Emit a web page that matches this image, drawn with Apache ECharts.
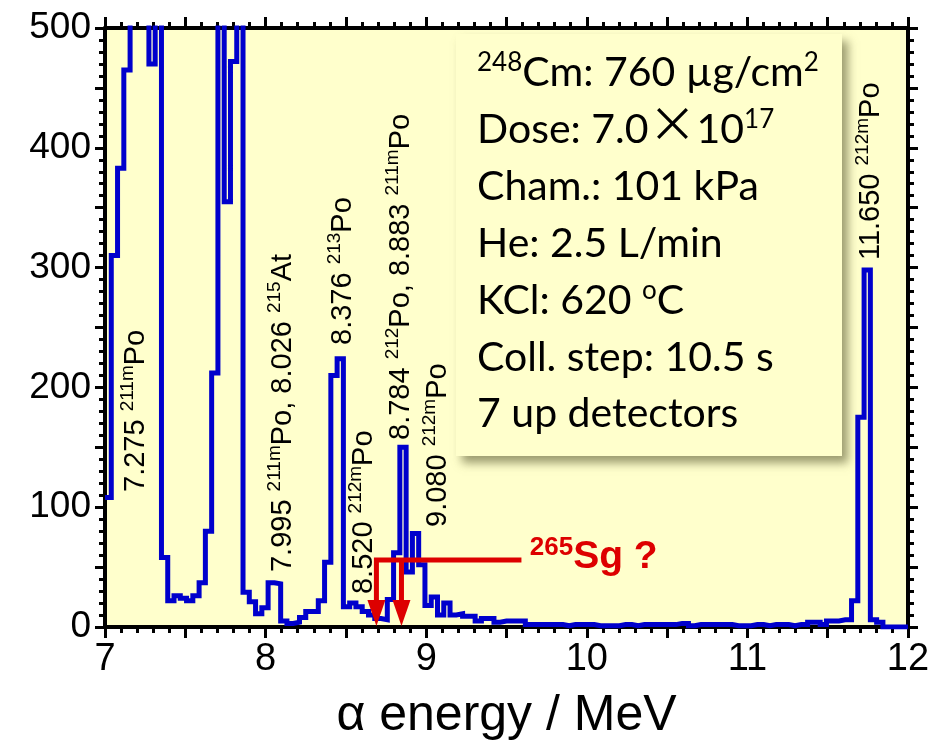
<!DOCTYPE html>
<html>
<head>
<meta charset="utf-8">
<script src="https://cdn.jsdelivr.net/npm/echarts@6/dist/echarts.min.js"></script>
<style>
  html, body { margin: 0; padding: 0; background: #ffffff; }
  #chart { width: 935px; height: 741px; }
</style>
</head>
<body>
<div id="chart"></div>
<script>
// ---- Alpha-particle energy spectrum, 128 channels between 7 and 12 MeV ----
const energyMin = 7;
const energyMax = 12;
const channelCount = 128;

// counts per channel (values above 500 run off the top of the frame)
const counts = [
  108, 310, 383, 465, 560, 620, 580, 470, 540, 58,
  22, 26, 24, 22, 26, 37, 80, 212, 540, 355,
  472, 530, 29, 21, 11, 16, 37, 36, 5, 3,
  4, 8, 13, 13, 22, 54, 210, 224, 17, 20,
  17, 13, 10, 7, 6, 23, 62, 150, 46, 78,
  52, 18, 25, 10, 20, 10, 11, 9, 9, 5,
  7, 7, 4, 5, 5, 5, 5, 2, 2, 2,
  2, 2, 2, 1, 2, 2, 2, 2, 1, 1,
  1, 1, 2, 2, 1, 2, 2, 2, 2, 2,
  2, 3, 3, 1, 2, 2, 2, 2, 2, 2,
  1, 1, 1, 2, 2, 1, 2, 2, 2, 1,
  2, 2, 4, 4, 2, 5, 5, 6, 6, 22,
  175, 298, 6, 4, 0, 0, 0, 0
];

const xTickLabels = [7, 8, 9, 10, 11, 12];
const yTickLabels = [0, 100, 200, 300, 400, 500];

// peak identifications: runs of [text, isSuperscript]
const peakLabelRuns = [
  [['7.275 ', 0], ['211m', 1], ['Po', 0]],
  [['7.995 ', 0], ['211m', 1], ['Po, 8.026 ', 0], ['215', 1], ['At', 0]],
  [['8.376 ', 0], ['213', 1], ['Po', 0]],
  [['8.520 ', 0], ['212m', 1], ['Po', 0]],
  [['8.784 ', 0], ['212', 1], ['Po, 8.883 ', 0], ['211m', 1], ['Po', 0]],
  [['9.080 ', 0], ['212m', 1], ['Po', 0]],
  [['11.650 ', 0], ['212m', 1], ['Po', 0]]
];

// experiment conditions
const infoRuns = [
  [['248', 1], ['Cm: 760 µg/cm', 0], ['2', 1]],
  [['Dose: 7.0', 0], ['×', 2], ['10', 0], ['17', 1]],
  [['Cham.: 101 kPa', 0]],
  [['He: 2.5 L/min', 0]],
  [['KCl: 620 ', 0], ['o', 1], ['C', 0]],
  [['Coll. step: 10.5 s', 0]],
  [['7 up detectors', 0]]
];

// candidate 265Sg alpha energies (MeV) and the bracket that points to them
const sgEnergies = [8.69, 8.846];
const sgBracketLevel = 56;
const sgBracketEnd = 9.593;
const sgLabelRuns = [['265', 1], ['Sg ?', 0]];

// ---- layout (anchors in data units: [energy, counts]) ----
const peakLabelAnchors = [
  [7.180, 112.7], [8.095, 45.9], [8.469, 235.4], [8.599, 27.5],
  [8.830, 156.1], [9.060, 83.5], [11.760, 306.3]
];
const sgLabelAnchor = [9.645, 49.2];

const LABEL_FONT = "'Liberation Sans', Arial, sans-serif";
const INFO_FONT = "Lato, 'Open Sans', sans-serif";
const BLUE = '#0000cc';
const RED = '#dd0000';
const BG = '#ffffcc';

const stepData = counts.map((c, i) => [energyMin + i * (energyMax - energyMin) / channelCount, c]);
stepData.push([energyMax, counts[counts.length - 1]]);

const chart = echarts.init(document.getElementById('chart'), null, { renderer: 'canvas' });

const tickStyle = { color: '#000', width: 3 };
function xAxisDef(pos, showLabels) {
  return {
    type: 'value', position: pos, min: energyMin, max: energyMax, interval: 0.5,
    axisLine: { show: true, onZero: false, lineStyle: { color: '#000', width: 4 } },
    axisTick: { show: true, inside: false, length: 11, lineStyle: tickStyle },
    minorTick: { show: true, splitNumber: 5, length: 6, lineStyle: tickStyle },
    splitLine: { show: false },
    axisLabel: {
      show: showLabels, margin: 14, color: '#000', fontSize: 38, fontFamily: LABEL_FONT,
      formatter: v => (xTickLabels.includes(v) ? String(v) : '')
    }
  };
}
function yAxisDef(pos, showLabels) {
  return {
    type: 'value', position: pos, min: 0, max: 500, interval: 50,
    axisLine: { show: true, onZero: false, lineStyle: { color: '#000', width: 4 } },
    axisTick: { show: true, inside: false, length: 10, lineStyle: tickStyle },
    minorTick: { show: true, splitNumber: 5, length: 6, lineStyle: tickStyle },
    splitLine: { show: false },
    axisLabel: {
      show: showLabels, margin: 14, color: '#000', fontSize: 37, fontFamily: LABEL_FONT,
      formatter: v => (yTickLabels.includes(v) ? String(v) : '')
    }
  };
}

const xBottom = xAxisDef('bottom', true);
xBottom.name = 'α energy / MeV';
xBottom.nameLocation = 'middle';
xBottom.nameGap = 64;
xBottom.nameTextStyle = { color: '#000', fontSize: 50, fontFamily: LABEL_FONT };

chart.setOption({
  animation: false,
  backgroundColor: '#ffffff',
  grid: {
    left: 105, right: 27, top: 28, bottom: 114, show: true, backgroundColor: BG, borderWidth: 0,
    containLabel: false, outerBoundsMode: 'none'
  },
  xAxis: [xBottom, xAxisDef('top', false)],
  yAxis: [yAxisDef('left', true), yAxisDef('right', false)],
  series: [{
    type: 'line', xAxisIndex: 0, yAxisIndex: 0, step: 'end', data: stepData,
    showSymbol: false, symbol: 'none', clip: true,
    lineStyle: { color: BLUE, width: 5, join: 'miter' }, z: 3
  }]
});

// ---- text helpers ----
const measureCtx = document.createElement('canvas').getContext('2d');
function fontSpec(size, family, weight) { return `${weight || 'normal'} ${size}px ${family}`; }
function measure(text, size, family, weight) {
  measureCtx.font = fontSpec(size, family, weight);
  return measureCtx.measureText(text).width;
}
// offset from the em 'middle' line down to the alphabetic baseline
function middleToBaseline(size, family, weight) {
  measureCtx.font = fontSpec(size, family, weight);
  measureCtx.textBaseline = 'middle';
  const a = measureCtx.measureText('H').actualBoundingBoxAscent;
  measureCtx.textBaseline = 'alphabetic';
  const b = measureCtx.measureText('H').actualBoundingBoxAscent;
  return b - a;
}

// lays out runs of normal / superscript text along a baseline; rot = 0 or 90 (reading upwards)
function layoutRuns(runs, x0, y0, opt) {
  const els = [];
  const up = opt.rot === 90;
  let adv = 0;
  runs.forEach(([txt, kind]) => {
    let size = opt.size, family = opt.family, raise = 0;
    if (kind === 1) { size = opt.supSize; raise = opt.supRaise; }
    if (kind === 2) { size = opt.crossSize; family = opt.crossFamily; raise = opt.crossRaise || 0; }
    const w = measure(txt, size, family, opt.weight);
    const mid = middleToBaseline(size, family, opt.weight);
    const off = mid + raise;
    let x, y, rotation = 0;
    if (up) { x = x0 - off; y = y0 - adv; rotation = Math.PI / 2; }
    else { x = x0 + adv; y = y0 - off; }
    els.push({
      type: 'text', x, y, rotation, z: 20, silent: true,
      style: {
        text: txt, fill: opt.color, fontSize: size, fontFamily: family,
        fontWeight: opt.weight || 'normal', align: 'left', verticalAlign: 'middle'
      }
    });
    adv += w;
  });
  return els;
}

function drawOverlay() {
  const g = [];
  const px = p => chart.convertToPixel({ xAxisIndex: 0, yAxisIndex: 0 }, p);

  // conditions box with drop shadow
  g.push({
    type: 'rect', shape: { x: 456, y: 34, width: 386, height: 422 }, z: 10,
    style: { fill: BG, shadowBlur: 9, shadowOffsetX: 6, shadowOffsetY: 7, shadowColor: 'rgba(90,90,50,0.6)' }
  });
  const infoOpt = { size: 41, family: INFO_FONT, supSize: 26, supRaise: 15, crossSize: 48,
    crossFamily: "'Noto Sans CJK JP', sans-serif", crossRaise: 2, color: '#000', rot: 0 };
  infoRuns.forEach((runs, i) => {
    g.push(...layoutRuns(runs, 477, 86 + i * 56.9, infoOpt));
  });

  // rotated peak labels; the anchor marks the start of the text on its mid-line
  const labOpt = { size: 29, family: LABEL_FONT, supSize: 19, supRaise: 11, color: '#000', rot: 90 };
  peakLabelRuns.forEach((runs, i) => {
    const p = px(peakLabelAnchors[i]);
    g.push(...layoutRuns(runs, p[0] + 10, p[1], labOpt));
  });

  // 265Sg bracket and arrows
  const lvl = px([sgBracketEnd, sgBracketLevel]);
  const a0 = px([sgEnergies[0], sgBracketLevel]);
  const base0 = px([sgEnergies[0], 0]);
  const a1 = px([sgEnergies[1], sgBracketLevel]);
  const base1 = px([sgEnergies[1], 0]);
  const redLine = { stroke: RED, lineWidth: 5, fill: null };
  g.push({ type: 'polyline', z: 15, shape: { points: [[lvl[0], lvl[1]], [a0[0], a0[1]], [a0[0], base0[1] - 20]] }, style: redLine });
  g.push({ type: 'polyline', z: 15, shape: { points: [[a1[0], a1[1]], [a1[0], base1[1] - 20]] }, style: redLine });
  [base0, base1].forEach(b => {
    g.push({ type: 'polygon', z: 15, shape: { points: [[b[0] - 9, b[1] - 27], [b[0] + 9, b[1] - 27], [b[0], b[1] - 1]] }, style: { fill: RED } });
  });
  const sp = px(sgLabelAnchor);
  g.push(...layoutRuns(sgLabelRuns, sp[0], sp[1], { size: 39, family: LABEL_FONT, weight: 'bold',
    supSize: 26, supRaise: 13, color: RED, rot: 0 }));

  chart.setOption({ graphic: { elements: g } });
}
drawOverlay();
</script>
</body>
</html>
